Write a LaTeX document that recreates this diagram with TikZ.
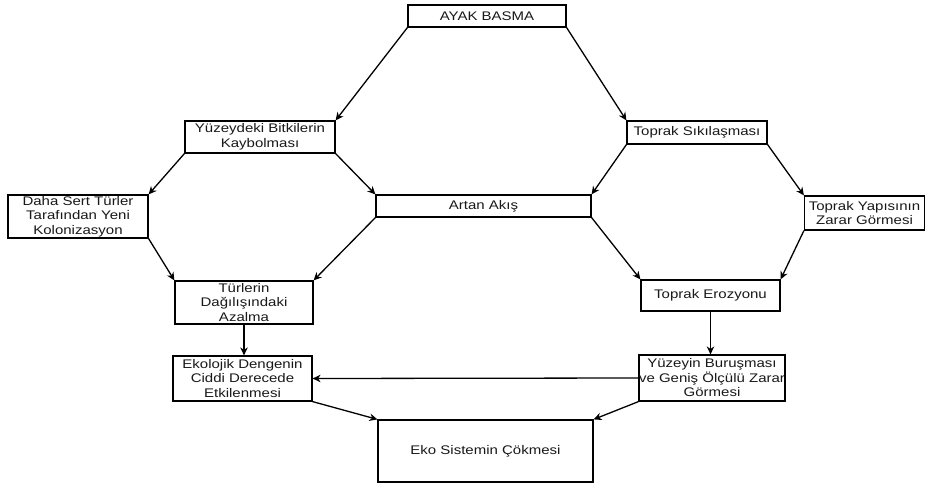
\documentclass[tikz,border=0pt]{standalone}
\usepackage{fontspec}
\setmainfont[FakeStretch=1.2]{Liberation Sans}
\usetikzlibrary{arrows.meta}
\begin{document}
\begin{tikzpicture}[x=1pt,y=-1pt,
  box/.style={draw=black, line width=1.2pt, inner sep=0pt, align=center,
    font=\fontsize{12.5}{14.5}\selectfont, text=black!90},
  arr/.style={line width=1.3pt, -{Stealth[length=8pt,width=7.5pt]}}]
\useasboundingbox[fill=white] (0,0) rectangle (925,487);
\node[box, minimum width=158pt, minimum height=22pt] (ayak) at (487,16) {AYAK BASMA};
\node[box, minimum width=150pt, minimum height=32pt] (yuz) at (260,137) {Yüzeydeki Bitkilerin\\Kaybolması};
\node[box, minimum width=140pt, minimum height=43pt] (daha) at (78,216.5) {Daha Sert Türler\\Tarafından Yeni\\Kolonizasyon};
\node[box, minimum width=215pt, minimum height=22pt] (artan) at (483.5,206) {Artan Akış};
\node[box, minimum width=140pt, minimum height=23pt] (sik) at (697,132.5) {Toprak Sıkılaşması};
\node[box, minimum width=120pt, minimum height=34pt] (yapi) at (864.5,213) {Toprak Yapısının\\Zarar Görmesi};
\node[box, minimum width=138pt, minimum height=43pt] (turler) at (244,302.5) {Türlerin\\Dağılışındaki\\Azalma};
\node[box, minimum width=139pt, minimum height=31pt] (eroz) at (710.5,295.5) {Toprak Erozyonu};
\node[box, minimum width=139pt, minimum height=45pt] (ekol) at (242.5,378.5) {Ekolojik Dengenin\\Ciddi Derecede\\Etkilenmesi};
\node[box, minimum width=140pt, minimum height=46pt] (yuzeyin) at (712,378) {Yüzeyin Buruşması\\ve Geniş Ölçülü Zarar\\Görmesi};
\node[box, minimum width=215pt, minimum height=62pt] (eko) at (485.5,451) {Eko Sistemin Çökmesi};
\draw[arr] (ayak.south west) -- (yuz.north east);
\draw[arr] (ayak.south east) -- (sik.north west);
\draw[arr] (yuz.south west) -- (daha.north east);
\draw[arr] (yuz.south east) -- (artan.north west);
\draw[arr] (sik.south west) -- (artan.north east);
\draw[arr] (sik.south east) -- (yapi.north west);
\draw[arr] (daha.south east) -- (turler.north west);
\draw[arr] (artan.south west) -- (turler.north east);
\draw[arr] (artan.south east) -- (eroz.north west);
\draw[arr] (yapi.south west) -- (eroz.north east);
\draw[arr] (turler.south) -- (turler.south |- ekol.north);
\draw[arr] (eroz.south) -- (eroz.south |- yuzeyin.north);
\draw[arr] (yuzeyin.west) -- (ekol.east);
\draw[arr] (ekol.south east) -- (eko.north west);
\draw[arr] (yuzeyin.south west) -- (eko.north east);
\end{tikzpicture}
\end{document}
